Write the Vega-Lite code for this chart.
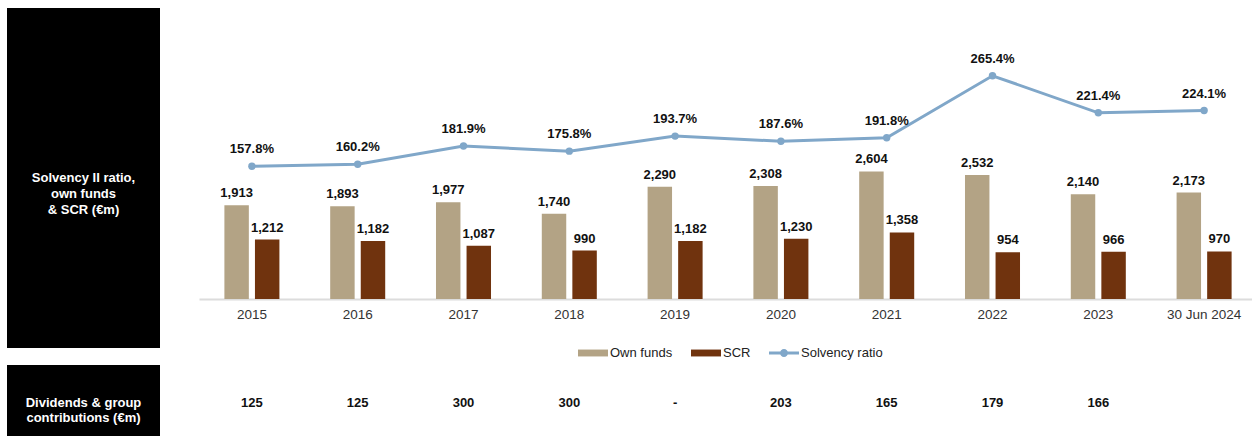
{
  "$schema": "https://vega.github.io/schema/vega-lite/v6.json",
  "padding": {"left": 7, "top": 8, "right": 0, "bottom": 0},
  "background": "white",
  "bounds": "flush",
  "columns": 2,
  "spacing": {"row": 17, "column": 39},
  "config": {"view": {"stroke": null}, "font": "Liberation Sans"},
  "resolve": {"legend": {"color": "independent"}, "scale": {"color": "independent"}},
  "datasets": {
    "bars": [
      {"year": "2015", "series": "Own funds", "value": 1913},
      {"year": "2015", "series": "SCR", "value": 1212},
      {"year": "2016", "series": "Own funds", "value": 1893},
      {"year": "2016", "series": "SCR", "value": 1182},
      {"year": "2017", "series": "Own funds", "value": 1977},
      {"year": "2017", "series": "SCR", "value": 1087},
      {"year": "2018", "series": "Own funds", "value": 1740},
      {"year": "2018", "series": "SCR", "value": 990},
      {"year": "2019", "series": "Own funds", "value": 2290},
      {"year": "2019", "series": "SCR", "value": 1182},
      {"year": "2020", "series": "Own funds", "value": 2308},
      {"year": "2020", "series": "SCR", "value": 1230},
      {"year": "2021", "series": "Own funds", "value": 2604},
      {"year": "2021", "series": "SCR", "value": 1358},
      {"year": "2022", "series": "Own funds", "value": 2532},
      {"year": "2022", "series": "SCR", "value": 954},
      {"year": "2023", "series": "Own funds", "value": 2140},
      {"year": "2023", "series": "SCR", "value": 966},
      {"year": "30 Jun 2024", "series": "Own funds", "value": 2173},
      {"year": "30 Jun 2024", "series": "SCR", "value": 970}
    ],
    "ratio": [
      {"year": "2015", "ratio": 1.578},
      {"year": "2016", "ratio": 1.602},
      {"year": "2017", "ratio": 1.819},
      {"year": "2018", "ratio": 1.758},
      {"year": "2019", "ratio": 1.937},
      {"year": "2020", "ratio": 1.876},
      {"year": "2021", "ratio": 1.918},
      {"year": "2022", "ratio": 2.654},
      {"year": "2023", "ratio": 2.214},
      {"year": "30 Jun 2024", "ratio": 2.241}
    ],
    "div": [
      {"year": "2015", "v": "125"},
      {"year": "2016", "v": "125"},
      {"year": "2017", "v": "300"},
      {"year": "2018", "v": "300"},
      {"year": "2019", "v": "-"},
      {"year": "2020", "v": "203"},
      {"year": "2021", "v": "165"},
      {"year": "2022", "v": "179"},
      {"year": "2023", "v": "166"}
    ]
  },
  "concat": [
    {
      "width": 153,
      "height": 340,
      "view": {"fill": "black", "stroke": null},
      "data": {"values": [{"t": "Solvency II ratio,\nown funds\n& SCR (€m)"}]},
      "mark": {"type": "text", "lineBreak": "\n", "color": "white", "fontWeight": "bold", "fontSize": 13, "lineHeight": 16, "align": "center", "baseline": "middle"},
      "encoding": {"text": {"field": "t"}}
    },
    {
      "width": 1058,
      "height": 291,
      "resolve": {"scale": {"y": "independent"}},
      "layer": [
        {
          "data": {"name": "bars"},
          "encoding": {
            "x": {"field": "year", "type": "nominal", "title": null,
              "scale": {"domain": ["2015","2016","2017","2018","2019","2020","2021","2022","2023","30 Jun 2024"], "paddingInner": 0.48, "paddingOuter": 0.24},
              "axis": {"labelAngle": 0, "ticks": false, "domainColor": "#dcdcdc", "domainWidth": 2, "labelFontSize": 13.5, "labelColor": "#333", "labelPadding": 8, "labelFont": "Liberation Sans"}},
            "xOffset": {"field": "series", "type": "nominal", "scale": {"domain": ["Own funds", "SCR"], "paddingInner": 0.2}},
            "y": {"field": "value", "type": "quantitative", "scale": {"domain": [0, 5940]}, "axis": null}
          },
          "layer": [
            {
              "mark": {"type": "bar"},
              "encoding": {
                "color": {"field": "series", "type": "nominal",
                  "scale": {"domain": ["Own funds", "SCR", "Solvency ratio"], "range": ["#b3a385", "#70330e", "#80a7c9"]},
                  "legend": {"orient": "none", "legendX": 379, "legendY": 330, "direction": "horizontal", "title": null,
                    "symbolSize": 900, "labelFontSize": 13, "labelFont": "Liberation Sans", "labelColor": "#222", "labelOffset": 2, "columnPadding": 18,
                    "symbolStrokeWidth": 0,
                    "encode": {"symbols": {"update": {"shape": {"signal": "datum.value === 'Solvency ratio' ? 'M-1,-0.1H1V0.1H-1Z M-0.27,0A0.27,0.27 0 1 1 0.27,0A0.27,0.27 0 1 1 -0.27,0Z' : 'M-1,-0.23H1V0.23H-1Z'"}}}}}
                }
              }
            },
            {
              "mark": {"type": "text", "fontWeight": "bold", "fontSize": 13, "color": "#111", "baseline": "alphabetic", "dy": -8},
              "encoding": {"text": {"field": "value", "type": "quantitative", "format": ","}}
            }
          ]
        },
        {
          "data": {"name": "ratio"},
          "encoding": {
            "x": {"field": "year", "type": "nominal", "title": null},
            "y": {"field": "ratio", "type": "quantitative", "scale": {"domain": [0, 3.46]}, "axis": null}
          },
          "layer": [
            {"mark": {"type": "line", "color": "#80a7c9", "strokeWidth": 3, "point": {"filled": true, "size": 55, "color": "#80a7c9"}}},
            {
              "mark": {"type": "text", "fontWeight": "bold", "fontSize": 13, "color": "#111", "baseline": "alphabetic", "dy": -13},
              "encoding": {"text": {"field": "ratio", "type": "quantitative", "format": ".1%"}}
            }
          ]
        }
      ]
    },
    {
      "width": 153,
      "height": 75,
      "view": {"fill": "black", "stroke": null},
      "data": {"values": [{"t": "Dividends & group\ncontributions (€m)"}]},
      "mark": {"type": "text", "lineBreak": "\n", "color": "white", "fontWeight": "bold", "fontSize": 13, "lineHeight": 15, "align": "center", "baseline": "middle"},
      "encoding": {"text": {"field": "t"}}
    },
    {
      "width": 1058,
      "height": 75,
      "data": {"name": "div"},
      "mark": {"type": "text", "fontWeight": "bold", "fontSize": 13, "color": "#111", "baseline": "middle"},
      "encoding": {
        "x": {"field": "year", "type": "nominal", "axis": null,
          "scale": {"domain": ["2015","2016","2017","2018","2019","2020","2021","2022","2023","30 Jun 2024"], "paddingInner": 0.48, "paddingOuter": 0.24}},
        "text": {"field": "v"}
      }
    }
  ]
}
